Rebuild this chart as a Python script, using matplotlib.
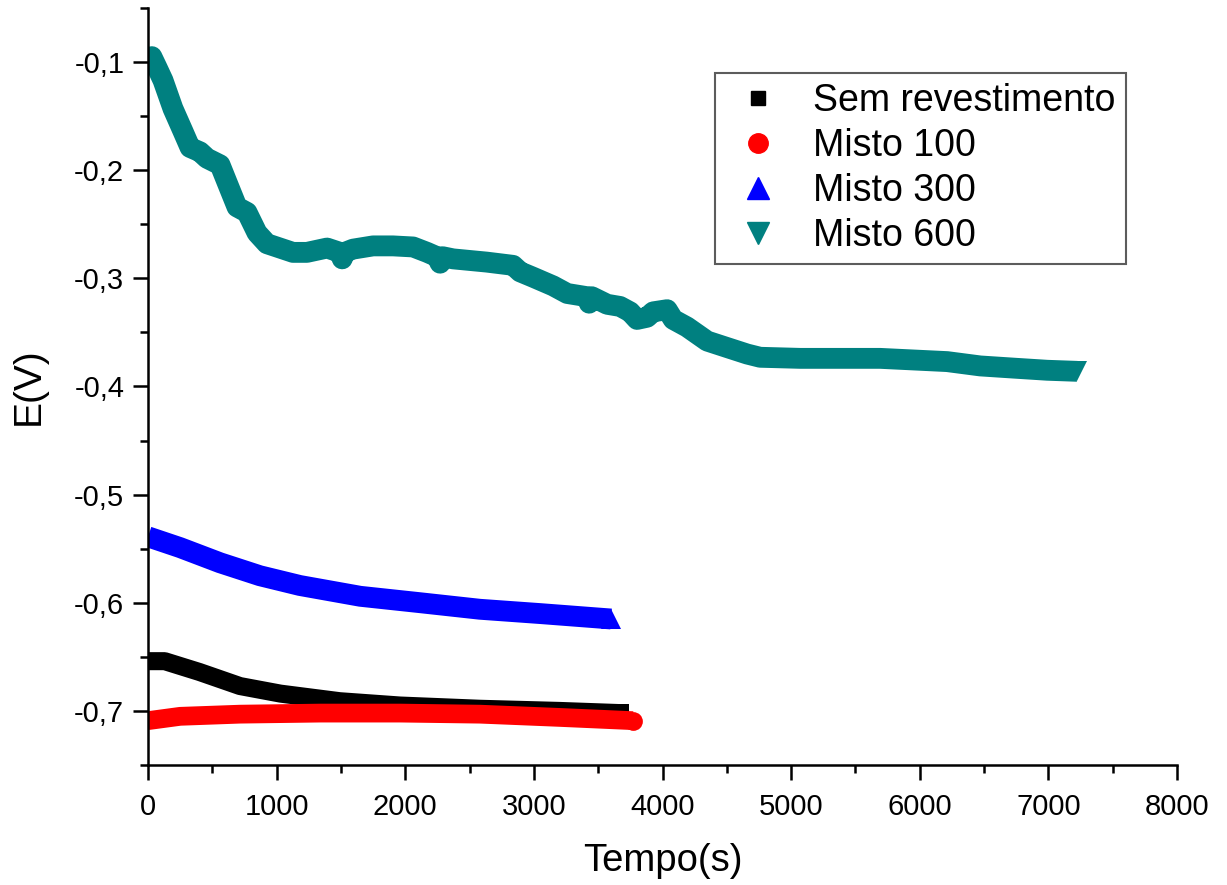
import matplotlib
matplotlib.use("Agg")
import matplotlib.pyplot as plt
from matplotlib.lines import Line2D
from matplotlib.ticker import MultipleLocator, FuncFormatter

plt.rcParams['font.family'] = ['Liberation Sans', 'DejaVu Sans']

# Data
t_sem = [0, 130, 400, 715, 1030, 1490, 1960, 2580, 3200, 3670]
e_sem = [-0.654, -0.654, -0.664, -0.677, -0.684, -0.691, -0.695, -0.698, -0.700, -0.702]

t_m100 = [0, 250, 715, 1340, 1960, 2580, 3200, 3770]
e_m100 = [-0.709, -0.705, -0.703, -0.702, -0.702, -0.703, -0.706, -0.709]

t_m300 = [0, 250, 560, 870, 1180, 1650, 2120, 2580, 3050, 3600]
e_m300 = [-0.539, -0.549, -0.563, -0.575, -0.584, -0.594, -0.600, -0.606, -0.610, -0.615]

t_m600 = [0, 30, 70, 117, 194, 272, 327, 404, 459, 560, 614, 692, 770, 848, 925,
          1026, 1127, 1236, 1392, 1493, 1510, 1530, 1594, 1750, 1905, 2061, 2170,
          2247, 2271, 2290, 2372, 2634, 2838, 2893, 2994, 3150, 3259, 3414, 3430,
          3450, 3570, 3670, 3748, 3802, 3880, 3927, 4036, 4083, 4191, 4347, 4502,
          4658, 4759, 5070, 5692, 6213, 6470, 6726, 6990, 7224]
e_m600 = [-0.102, -0.095, -0.105, -0.117, -0.143, -0.164, -0.179, -0.183, -0.189,
          -0.195, -0.211, -0.234, -0.239, -0.258, -0.268, -0.272, -0.276, -0.276,
          -0.272, -0.276, -0.282, -0.276, -0.273, -0.270, -0.270, -0.271, -0.276,
          -0.280, -0.286, -0.280, -0.282, -0.285, -0.288, -0.294, -0.299, -0.307,
          -0.314, -0.317, -0.323, -0.317, -0.324, -0.326, -0.331, -0.338, -0.336,
          -0.331, -0.329, -0.338, -0.345, -0.358, -0.364, -0.370, -0.373, -0.374,
          -0.374, -0.377, -0.381, -0.383, -0.385, -0.386]

labels = ["Sem revestimento", "Misto 100", "Misto 300", "Misto 600"]
colors = ["#000000", "#FF0000", "#0000FF", "#008080"]
markers = ["s", "o", "^", "v"]

fig = plt.figure(figsize=(12.27, 8.85), dpi=100)
ax = fig.add_axes([0.1206, 0.1356, 0.8387, 0.8554])

series = [(t_sem, e_sem, 13), (t_m100, e_m100, 13.5), (t_m300, e_m300, 15), (t_m600, e_m600, 15)]
for (t, e, lw), c, m in zip(series, colors, markers):
    ax.plot(t, e, color=c, lw=lw, solid_capstyle='butt', solid_joinstyle='round', zorder=2)
    ax.plot(t[-1:], e[-1:], color=c, lw=0, marker=m, markersize=lw, markeredgewidth=0, zorder=2)

ax.set_xlim(0, 8000)
ax.set_ylim(-0.75, -0.05)

ax.xaxis.set_major_locator(MultipleLocator(1000))
ax.xaxis.set_minor_locator(MultipleLocator(500))
ax.yaxis.set_major_locator(MultipleLocator(0.1))
ax.yaxis.set_minor_locator(MultipleLocator(0.05))
ax.yaxis.set_major_formatter(FuncFormatter(lambda v, p: ("%.1f" % v).replace(".", ",")))

for s in ["top", "right"]:
    ax.spines[s].set_visible(False)
for s in ["left", "bottom"]:
    ax.spines[s].set_linewidth(1.8)

ax.tick_params(which='major', direction='out', length=11, width=1.8, labelsize=21)
ax.tick_params(axis='x', which='major', pad=9)
ax.tick_params(axis='y', which='major', pad=6)
ax.tick_params(which='minor', direction='out', length=6, width=1.8)

ax.set_xlabel("Tempo(s)", fontsize=27.5, labelpad=16)
ax.set_ylabel("E(V)", fontsize=28, labelpad=20)

handles = [
    Line2D([], [], color=colors[0], marker='s', lw=0, markersize=10),
    Line2D([], [], color=colors[1], marker='o', lw=0, markersize=14),
    Line2D([], [], color=colors[2], marker='^', lw=0, markersize=16),
    Line2D([], [], color=colors[3], marker='v', lw=0, markersize=16),
]
leg = ax.legend(handles, labels, loc='upper right', bbox_to_anchor=(0.950, 0.914),
                borderaxespad=0, fontsize=27, frameon=True, fancybox=False,
                labelspacing=0.24, handlelength=1.74, handletextpad=0.6,
                borderpad=0.27)
leg.get_frame().set_edgecolor('#333333')
leg.get_frame().set_linewidth(1.5)

fig.savefig("out.png", dpi=100, facecolor='white')
